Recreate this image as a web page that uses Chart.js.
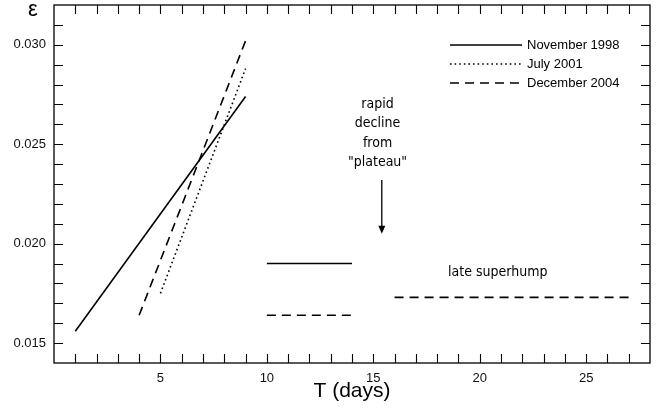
<!DOCTYPE html>
<html>
<head>
<meta charset="utf-8">
<script src="https://cdn.jsdelivr.net/npm/chart.js@4"></script>
<style>
html,body{margin:0;padding:0;background:#fff;}
#wrap{width:670px;height:419px;position:relative;}
</style>
</head>
<body>
<div id="wrap"><canvas id="c" width="670" height="419"></canvas></div>
<script>
// ---- data ----
const seriesNames = ['November 1998', 'July 2001', 'December 2004'];
const nov1998T = [1, 9];
const nov1998E = [0.0156, 0.0274];
const jul2001T = [5, 9];
const jul2001E = [0.0175, 0.0288];
const dec2004T = [4, 9];
const dec2004E = [0.0164, 0.0302];
const nov1998PlateauT = [10, 14];
const nov1998PlateauE = [0.0190, 0.0190];
const dec2004PlateauT = [10, 14];
const dec2004PlateauE = [0.0164, 0.0164];
const dec2004LateT = [16, 27];
const dec2004LateE = [0.0173, 0.0173];

const xTickLabels = [5, 10, 15, 20, 25];
const yTickLabels = [0.015, 0.020, 0.025, 0.030];
const xMinorTicks = [1,2,3,4,5,6,7,8,9,10,11,12,13,14,15,16,17,18,19,20,21,22,23,24,25,26,27];
const yMinorTicks = [0.015,0.016,0.017,0.018,0.019,0.020,0.021,0.022,0.023,0.024,0.025,0.026,0.027,0.028,0.029,0.030,0.031];

const noteDecline = ['rapid', 'decline', 'from', '"plateau"'];
const noteLate = 'late superhump';

function pts(xs, ys) { return xs.map((x, i) => ({x: x, y: ys[i]})); }

const SOLID = [];
const DOTTED = [1.6, 3];
const DASHED = [9, 6];

function ds(label, xs, ys, dash) {
  return {
    label: label,
    data: pts(xs, ys),
    showLine: true,
    borderColor: '#000',
    backgroundColor: '#000',
    borderWidth: 1.6,
    borderDash: dash,
    pointRadius: 0,
    pointHoverRadius: 0,
    tension: 0
  };
}

const styleByName = {'November 1998': SOLID, 'July 2001': DOTTED, 'December 2004': DASHED};

const annot = {
  id: 'annot',
  afterDraw(chart) {
    const ctx = chart.ctx;
    const xs = chart.scales.x, ys = chart.scales.y;
    const a = chart.chartArea;
    ctx.save();
    // frame
    ctx.strokeStyle = '#000';
    ctx.lineWidth = 1.3;
    ctx.setLineDash([]);
    ctx.strokeRect(a.left, a.top, a.right - a.left, a.bottom - a.top);
    // ticks inside on all four sides
    const TL = 9;
    ctx.lineWidth = 1.1;
    ctx.beginPath();
    xMinorTicks.forEach(v => {
      const px = Math.round(xs.getPixelForValue(v)) + 0.5;
      ctx.moveTo(px, a.bottom); ctx.lineTo(px, a.bottom - TL);
      ctx.moveTo(px, a.top); ctx.lineTo(px, a.top + TL);
    });
    yMinorTicks.forEach(v => {
      const py = Math.round(ys.getPixelForValue(v)) + 0.5;
      ctx.moveTo(a.left, py); ctx.lineTo(a.left + TL, py);
      ctx.moveTo(a.right, py); ctx.lineTo(a.right - TL, py);
    });
    ctx.stroke();

    // epsilon label
    ctx.fillStyle = '#000';
    ctx.font = '22px "Liberation Sans", Arial, sans-serif';
    ctx.textAlign = 'center';
    ctx.textBaseline = 'middle';
    ctx.fillText('ε', 33, 10);

    // legend
    ctx.font = '13px "Liberation Sans", Arial, sans-serif';
    ctx.textAlign = 'left';
    const lx0 = a.left + 396, lx1 = a.left + 468;
    seriesNames.forEach((name, i) => {
      const y = a.top + 40 + i * 19;
      ctx.beginPath();
      ctx.lineWidth = 1.6;
      ctx.setLineDash(styleByName[name]);
      ctx.moveTo(lx0, y); ctx.lineTo(lx1, y);
      ctx.stroke();
      ctx.fillText(name, lx1 + 5, y);
    });
    ctx.setLineDash([]);

    // annotation: rapid decline
    ctx.font = '14px "DejaVu Sans Condensed", "DejaVu Sans", sans-serif';
    ctx.textAlign = 'center';
    const cx = xs.getPixelForValue(15.2);
    const ty0 = ys.getPixelForValue(0.02700);
    noteDecline.forEach((t, i) => ctx.fillText(t, cx, ty0 + i * 19.3));
    // arrow
    const ax = xs.getPixelForValue(15.4);
    const ay0 = ys.getPixelForValue(0.0232);
    const ay1 = ys.getPixelForValue(0.0205);
    ctx.lineWidth = 1.3;
    ctx.beginPath();
    ctx.moveTo(ax, ay0); ctx.lineTo(ax, ay1 - 6);
    ctx.stroke();
    ctx.beginPath();
    ctx.moveTo(ax - 3.5, ay1 - 8); ctx.lineTo(ax + 3.5, ay1 - 8); ctx.lineTo(ax, ay1);
    ctx.closePath(); ctx.fill();

    // late superhump
    ctx.fillText(noteLate, xs.getPixelForValue(20.85), ys.getPixelForValue(0.01855));
    ctx.restore();
  }
};

new Chart(document.getElementById('c'), {
  type: 'scatter',
  data: {
    datasets: [
      ds(seriesNames[0], nov1998T, nov1998E, SOLID),
      ds(seriesNames[1], jul2001T, jul2001E, DOTTED),
      ds(seriesNames[2], dec2004T, dec2004E, DASHED),
      ds(seriesNames[0], nov1998PlateauT, nov1998PlateauE, SOLID),
      ds(seriesNames[2], dec2004PlateauT, dec2004PlateauE, DASHED),
      ds(seriesNames[2], dec2004LateT, dec2004LateE, DASHED)
    ]
  },
  options: {
    responsive: false,
    animation: false,
    devicePixelRatio: 1,
    layout: {padding: {left: 0, right: 20, top: 5, bottom: 0}},
    plugins: {legend: {display: false}, tooltip: {enabled: false}},
    scales: {
      x: {
        type: 'linear', min: 0, max: 28,
        grid: {display: false, drawTicks: false},
        border: {display: false},
        afterBuildTicks: s => { s.ticks = xTickLabels.map(v => ({value: v})); },
        afterFit: s => { s.height = 56; s.paddingLeft = 0; s.paddingRight = 0; },
        ticks: {
          color: '#111', padding: 8,
          font: {family: '"Liberation Sans", Arial, sans-serif', size: 13},
          callback: v => String(v)
        },
        title: {
          display: true, text: 'T (days)', color: '#000',
          font: {family: '"Liberation Sans", Arial, sans-serif', size: 21},
          padding: {top: 0, bottom: 15}
        }
      },
      y: {
        type: 'linear', min: 0.014, max: 0.032,
        grid: {display: false, drawTicks: false},
        border: {display: false},
        afterBuildTicks: s => { s.ticks = yTickLabels.map(v => ({value: v})); },
        afterFit: s => { s.width = 54; s.paddingTop = 0; s.paddingBottom = 0; },
        ticks: {
          color: '#111', padding: 8,
          font: {family: '"Liberation Sans", Arial, sans-serif', size: 13},
          callback: v => Number(v).toFixed(3)
        }
      }
    }
  },
  plugins: [annot]
});
</script>
</body>
</html>
